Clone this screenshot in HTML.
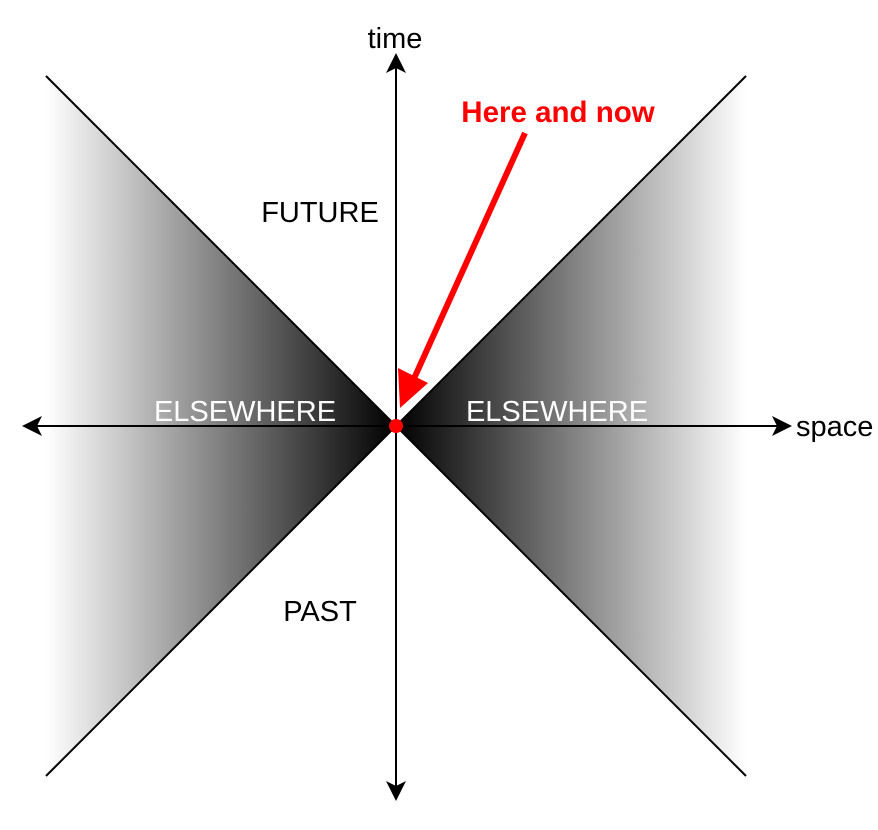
<!DOCTYPE html>
<html><head><style>body{margin:0;background:#fff}</style></head><body>
<svg width="878" height="825" viewBox="0 0 878 825" xmlns="http://www.w3.org/2000/svg" font-family="Liberation Sans, Arial, sans-serif">
<defs>
<linearGradient id="gl" x1="46" y1="0" x2="396" y2="0" gradientUnits="userSpaceOnUse">
<stop offset="0" stop-color="#fff"/><stop offset="1" stop-color="#000"/></linearGradient>
<linearGradient id="gr" x1="396" y1="0" x2="746" y2="0" gradientUnits="userSpaceOnUse">
<stop offset="0" stop-color="#000"/><stop offset="1" stop-color="#fff"/></linearGradient>
</defs>
<polygon points="46,76 396,426 46,776" fill="url(#gl)"/>
<polygon points="746,76 396,426 746,776" fill="url(#gr)"/>
<line x1="46" y1="76" x2="746" y2="776" stroke="#000" stroke-width="2"/>
<line x1="746" y1="76" x2="46" y2="776" stroke="#000" stroke-width="2"/>
<line x1="34" y1="426" x2="778" y2="426" stroke="#000" stroke-width="2"/>
<polygon points="22,426 42,416 37,426 42,436" fill="#000"/>
<polygon points="792,426 772,416 777,426 772,436" fill="#000"/>
<line x1="396" y1="66" x2="396" y2="790" stroke="#000" stroke-width="2"/>
<polygon points="396,53 386,73 396,68 406,73" fill="#000"/>
<polygon points="396,801 386,781 396,786 406,781" fill="#000"/>
<line x1="525" y1="133" x2="412" y2="383" stroke="#f00" stroke-width="6"/>
<polygon points="400,408 398,368 428,383" fill="#f00"/>
<circle cx="396" cy="426" r="7" fill="#f00"/>
<text x="395" y="48" font-size="29" text-anchor="middle">time</text>
<text x="796" y="436" font-size="29">space</text>
<text x="320" y="222" font-size="29" text-anchor="middle">FUTURE</text>
<text x="320" y="621" font-size="29" text-anchor="middle">PAST</text>
<text x="245" y="421" font-size="29" text-anchor="middle" fill="#fff">ELSEWHERE</text>
<text x="557" y="421" font-size="29" text-anchor="middle" fill="#fff">ELSEWHERE</text>
<text x="558" y="122" font-size="29.5" font-weight="bold" text-anchor="middle" fill="#f00">Here and now</text>
</svg>
</body></html>
